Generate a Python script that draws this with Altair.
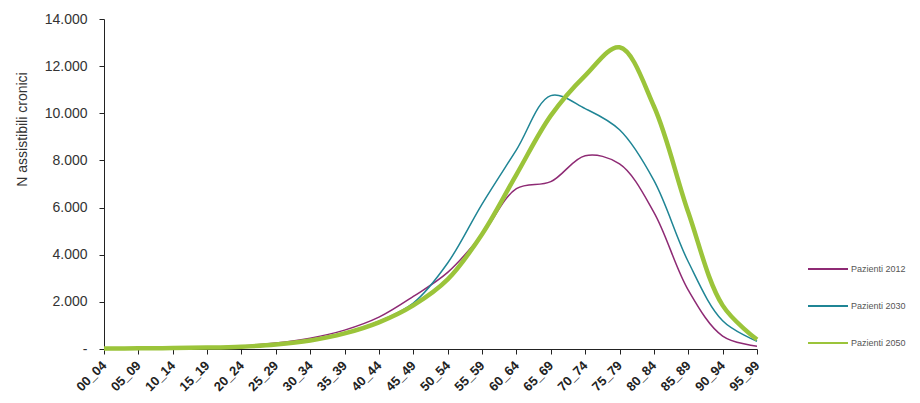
import altair as alt
import pandas as pd

categorie = ["00_04", "05_09", "10_14", "15_19", "20_24", "25_29", "30_34", "35_39",
             "40_44", "45_49", "50_54", "55_59", "60_64", "65_69", "70_74", "75_79",
             "80_84", "85_89", "90_94", "95_99"]

pazienti_2012 = [30, 40, 50, 80, 130, 250, 460, 800, 1350, 2230, 3250, 4850,
                 6800, 7100, 8200, 7850, 5800, 2500, 550, 120]
pazienti_2030 = [20, 30, 40, 60, 110, 210, 400, 690, 1180, 1950, 3650, 6150,
                 8450, 10750, 10200, 9300, 7150, 3700, 1200, 330]
pazienti_2050 = [20, 30, 40, 60, 100, 190, 360, 660, 1130, 1850, 2950, 4870,
                 7400, 9900, 11600, 12800, 10300, 5800, 1850, 400]

serie = ["Pazienti 2012", "Pazienti 2030", "Pazienti 2050"]
colori = ["#8E2A74", "#1F8595", "#9BC43A"]
spessori = [1.5, 1.5, 4.5]
tick_y = [0, 2000, 4000, 6000, 8000, 10000, 12000, 14000]

rows = []
for nome, valori, sp in zip(serie, [pazienti_2012, pazienti_2030, pazienti_2050], spessori):
    for c, v in zip(categorie, valori):
        rows.append({"eta": c, "valore": v, "serie": nome, "spessore": sp})
df = pd.DataFrame(rows)

FONT = "Liberation Sans"

chart = alt.Chart(df).mark_line(interpolate="catmull-rom").encode(
    x=alt.X("eta:N", sort=categorie, title=None,
            scale=alt.Scale(type="point", padding=0),
            axis=alt.Axis(labelAngle=-45, labelAlign="right", labelBaseline="middle",
                          labelFontWeight="bold", labelFontSize=13, labelColor="#222",
                          labelPadding=9, tickSize=5, tickColor="#222",
                          domainColor="#222", labelFont=FONT, grid=False)),
    y=alt.Y("valore:Q", title="N assistibili cronici",
            scale=alt.Scale(domain=[0, 14000], nice=False),
            axis=alt.Axis(values=tick_y, grid=False, tickSize=5, tickColor="#222",
                          domainColor="#222", labelFontSize=14, labelColor="#333",
                          labelFont=FONT, labelPadding=12,
                          labelExpr="datum.value == 0 ? '-\u00a0\u00a0\u00a0\u00a0' : replace(format(datum.value, ',.0f'), ',', '.')",
                          titleFont=FONT, titleFontSize=14, titleFontWeight="normal",
                          titleColor="#333", titleAngle=-90, titleX=-82, titleY=110,
                          titleAlign="center", titleBaseline="middle")),
    color=alt.Color("serie:N", scale=alt.Scale(domain=serie, range=colori),
                    legend=alt.Legend(title=None, orient="none", legendX=703, legendY=229,
                                      symbolType="stroke", symbolSize=1600,
                                      symbolStrokeWidth=2, labelFontSize=9,
                                      labelColor="#555", labelFont=FONT,
                                      rowPadding=11, labelOffset=2)),
    strokeWidth=alt.StrokeWidth("spessore:Q", scale=None),
).properties(
    width=653,
    height=330,
    autosize=alt.AutoSizeParams(type="none"),
    padding={"left": 96, "top": 11, "right": 155, "bottom": 54},
).configure_view(stroke=None)

chart.save("out.html", embed_options={"renderer": "svg", "actions": False})
